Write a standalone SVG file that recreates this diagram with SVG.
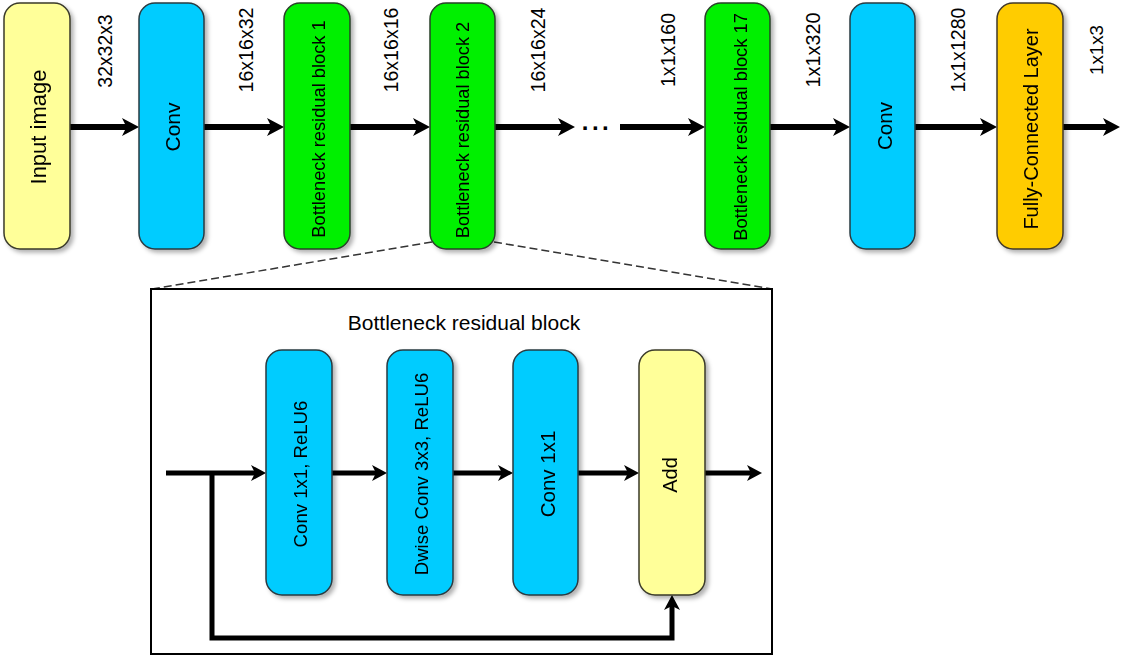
<svg xmlns="http://www.w3.org/2000/svg" width="1124" height="656" viewBox="0 0 1124 656">
<style>
.t{font-family:"Liberation Sans",Arial,sans-serif;fill:#000;text-anchor:middle;dominant-baseline:central}
.yel{fill:#ffff99;stroke:#3a3a2a;stroke-width:1.5}
.cy{fill:#00ccff;stroke:#2a3a40;stroke-width:1.5}
.gr{fill:#00f000;stroke:#2a402a;stroke-width:1.5}
.or{fill:#ffcc00;stroke:#40382a;stroke-width:1.5}
.ln{stroke:#000;fill:none}
.w5{stroke-width:6}
.w4{stroke-width:5}
.dash{stroke:#333;stroke-width:1.5;stroke-dasharray:8 4;fill:none}
</style>
<defs>
<filter id="sh" x="-20%" y="-10%" width="150%" height="130%">
<feDropShadow dx="3" dy="3" stdDeviation="2" flood-color="#000" flood-opacity="0.3"/>
</filter>
<marker id="ah" markerUnits="userSpaceOnUse" markerWidth="20" markerHeight="20" viewBox="0 -10 18 20" refX="8" refY="0" orient="auto">
<path d="M0,-9 L17,0 L0,9 L4.5,0 Z" fill="#000"/>
</marker>
<marker id="ah2" markerUnits="userSpaceOnUse" markerWidth="18" markerHeight="18" viewBox="0 -9 16 18" refX="7" refY="0" orient="auto">
<path d="M0,-8 L15,0 L0,8 L4,0 Z" fill="#000"/>
</marker>
</defs>
<rect width="1124" height="656" fill="#fff"/>

<g id="zoom-lines">
<line class="dash" x1="432" y1="242" x2="152" y2="289"/>
<line class="dash" x1="494" y1="242" x2="772" y2="289"/>
</g>

<g id="inset">
<rect x="151" y="289" width="621" height="365" fill="#fff" stroke="#000" stroke-width="2"/>
<text class="t" x="464" y="322" font-size="21">Bottleneck residual block</text>
</g>

<g id="connectors">
<line class="ln w5" x1="70" y1="127" x2="130" y2="127" marker-end="url(#ah)"/>
<line class="ln w5" x1="204" y1="127" x2="275" y2="127" marker-end="url(#ah)"/>
<line class="ln w5" x1="350" y1="127" x2="421" y2="127" marker-end="url(#ah)"/>
<line class="ln w5" x1="495" y1="127" x2="566" y2="127" marker-end="url(#ah)"/>
<line class="ln w5" x1="620" y1="127" x2="696" y2="127" marker-end="url(#ah)"/>
<line class="ln w5" x1="770" y1="127" x2="841" y2="127" marker-end="url(#ah)"/>
<line class="ln w5" x1="915" y1="127" x2="988" y2="127" marker-end="url(#ah)"/>
<line class="ln w5" x1="1063" y1="127" x2="1111" y2="127" marker-end="url(#ah)"/>
<line class="ln w4" x1="166" y1="473" x2="258" y2="473" marker-end="url(#ah2)"/>
<line class="ln w4" x1="332" y1="473" x2="379" y2="473" marker-end="url(#ah2)"/>
<line class="ln w4" x1="453" y1="473" x2="505" y2="473" marker-end="url(#ah2)"/>
<line class="ln w4" x1="578" y1="473" x2="631" y2="473" marker-end="url(#ah2)"/>
<line class="ln w4" x1="705" y1="473" x2="754" y2="473" marker-end="url(#ah2)"/>
<polyline class="ln w4" points="212,473 212,638 672,638 672,603" marker-end="url(#ah2)"/>
<text class="t" x="597" y="121" font-size="24" font-weight="bold" letter-spacing="3.5">...</text>
</g>

<g id="n-input" filter="url(#sh)">
<rect class="yel" x="4" y="3" width="66" height="246" rx="16"/>
<text class="t" font-size="22" transform="translate(38,127) rotate(-90)">Input image</text>
</g>
<g id="n-conv1" filter="url(#sh)">
<rect class="cy" x="139" y="3" width="65" height="246" rx="16"/>
<text class="t" font-size="21" transform="translate(172,127) rotate(-90)">Conv</text>
</g>
<g id="n-brb1" filter="url(#sh)">
<rect class="gr" x="284" y="3" width="66" height="246" rx="16"/>
<text class="t" font-size="18.3" transform="translate(318,129) rotate(-90)">Bottleneck residual block 1</text>
</g>
<g id="n-brb2" filter="url(#sh)">
<rect class="gr" x="430" y="3" width="65" height="246" rx="16"/>
<text class="t" font-size="18.2" transform="translate(463,130) rotate(-90)">Bottleneck residual block 2</text>
</g>
<g id="n-brb17" filter="url(#sh)">
<rect class="gr" x="705" y="3" width="65" height="246" rx="16"/>
<text class="t" font-size="18.3" transform="translate(740,127) rotate(-90)">Bottleneck residual block 17</text>
</g>
<g id="n-conv2" filter="url(#sh)">
<rect class="cy" x="850" y="3" width="65" height="246" rx="16"/>
<text class="t" font-size="20.6" transform="translate(884,126) rotate(-90)">Conv</text>
</g>
<g id="n-fc" filter="url(#sh)">
<rect class="or" x="997" y="3" width="66" height="246" rx="16"/>
<text class="t" font-size="20" transform="translate(1031,129) rotate(-90)">Fully-Connected Layer</text>
</g>

<g id="dims">
<text class="t" font-size="19.4" transform="translate(105,51) rotate(-90)">32x32x3</text>
<text class="t" font-size="19.6" transform="translate(246,50) rotate(-90)">16x16x32</text>
<text class="t" font-size="19.6" transform="translate(391,50) rotate(-90)">16x16x16</text>
<text class="t" font-size="19.6" transform="translate(538,50) rotate(-90)">16x16x24</text>
<text class="t" font-size="19.6" transform="translate(668,50) rotate(-90)">1x1x160</text>
<text class="t" font-size="19.8" transform="translate(813,50) rotate(-90)">1x1x320</text>
<text class="t" font-size="19.6" transform="translate(958,50) rotate(-90)">1x1x1280</text>
<text class="t" font-size="18.8" transform="translate(1096,50) rotate(-90)">1x1x3</text>
</g>

<g id="n-conv1x1-relu" filter="url(#sh)">
<rect class="cy" x="266" y="350" width="66" height="245" rx="16"/>
<text class="t" font-size="18.6" transform="translate(300,474) rotate(-90)">Conv 1x1, ReLU6</text>
</g>
<g id="n-dwise" filter="url(#sh)">
<rect class="cy" x="387" y="350" width="66" height="245" rx="16"/>
<text class="t" font-size="18.6" transform="translate(421,474) rotate(-90)">Dwise Conv 3x3, ReLU6</text>
</g>
<g id="n-conv1x1" filter="url(#sh)">
<rect class="cy" x="513" y="350" width="65" height="245" rx="16"/>
<text class="t" font-size="20.5" transform="translate(547,474) rotate(-90)">Conv 1x1</text>
</g>
<g id="n-add" filter="url(#sh)">
<rect class="yel" x="639" y="350" width="66" height="245" rx="16"/>
<text class="t" font-size="20" transform="translate(670,475) rotate(-90)">Add</text>
</g>
</svg>
